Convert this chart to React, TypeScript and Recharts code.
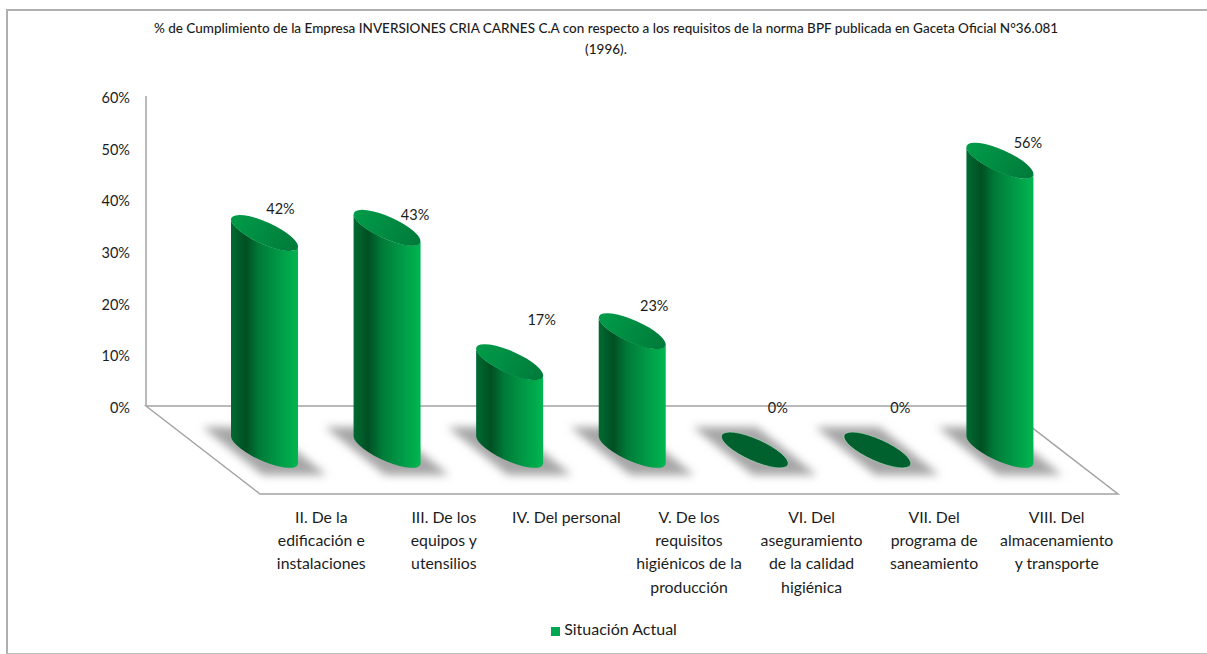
import { BarChart, Bar, XAxis, YAxis, Legend, LabelList } from 'recharts'

const categories = [
  'II. De la edificación e instalaciones',
  'III. De los equipos y utensilios',
  'IV. Del personal',
  'V. De los requisitos higiénicos de la producción',
  'VI. Del aseguramiento de la calidad higiénica',
  'VII. Del programa de saneamiento',
  'VIII. Del almacenamiento y transporte',
]
const categoryLines = [
  ['II. De la', 'edificación e', 'instalaciones'],
  ['III. De los', 'equipos y', 'utensilios'],
  ['IV. Del personal'],
  ['V. De los', 'requisitos', 'higiénicos de la', 'producción'],
  ['VI. Del', 'aseguramiento', 'de la calidad', 'higiénica'],
  ['VII. Del', 'programa de', 'saneamiento'],
  ['VIII. Del', 'almacenamiento', 'y transporte'],
]
const situacionActual = [42, 43, 17, 23, 0, 0, 56]
const yTicks = [0, 10, 20, 30, 40, 50, 60]

// hand-placed data labels, relative to the top of each cylinder
const labelNudges = [
  [16, -25],
  [28, -13],
  [32, -43],
  [22, -26],
  [23, -43],
  [23, -43],
  [28, -18],
]

const data = categories.map((name, i) => ({ name, value: situacionActual[i] }))

const FONT = 'Lato, sans-serif'
const INK = '#1c1c1c'
const GRID = '#a3a3a3'

// floor of the 3D plot: back edge sits on the axis, front edge is pushed down and right
const PLOT = { left: 146, right: 1004, top: 96, bottom: 406 }
const FLOOR_DX = 114
const FLOOR_DY = 88
// cylinders stand in the middle of the floor
const MID_DX = FLOOR_DX / 2
const MID_DY = 44

// tilted ellipse used for both caps
const RX = 36.4
const RY = 11
const TILT = 24.2
const SIDE_DY = 13.5

const Cylinder = (props: any) => {
  const { x, y, width, height, value } = props
  const cx = x + width / 2 + MID_DX
  const yTop = y + MID_DY
  const yBase = y + height + MID_DY
  const w = width / 2

  const shadow = [
    [cx - 62, yBase - 23],
    [cx + 2, yBase - 23],
    [cx + 62, yBase + 25],
    [cx - 2, yBase + 25],
  ]
    .map((p) => p.join(','))
    .join(' ')

  const body = [
    `M${cx - w},${yTop - SIDE_DY}`,
    `L${cx - w},${yBase - SIDE_DY}`,
    `A${RX},${RY} ${TILT} 0 0 ${cx + w},${yBase + SIDE_DY}`,
    `L${cx + w},${yTop + SIDE_DY}`,
    `A${RX},${RY} ${TILT} 0 1 ${cx - w},${yTop - SIDE_DY}`,
    'Z',
  ].join(' ')

  return (
    <g>
      <polygon points={shadow} fill="#a6a6a6" filter="url(#floorShadow)" />
      {value > 0 && <path d={body} fill="url(#cylinderSide)" />}
      <ellipse
        cx={cx}
        cy={yTop}
        rx={RX}
        ry={RY}
        transform={`rotate(${TILT} ${cx} ${yTop})`}
        fill={value > 0 ? 'url(#cylinderCap)' : '#00612e'}
        stroke={value > 0 ? 'none' : '#b9d8c4'}
        strokeWidth={value > 0 ? 0 : 0.6}
      />
    </g>
  )
}

const CategoryTick = ({ x, y, payload }: any) => {
  const lines = categoryLines[payload.index] ?? []
  return (
    <text x={x + FLOOR_DX} y={y} textAnchor="middle" fontFamily={FONT} fontSize={15.8} fill={INK}>
      {lines.map((line, i) => (
        <tspan key={i} x={x + FLOOR_DX} y={523 + i * 23.2}>
          {line}
        </tspan>
      ))}
    </text>
  )
}

const CylinderLabel = ({ x, y, width, value, index }: any) => {
  const [dx, dy] = labelNudges[index]
  return (
    <text
      x={x + width / 2 + MID_DX + dx}
      y={y + MID_DY + dy}
      textAnchor="middle"
      dominantBaseline="central"
      fontFamily={FONT}
      fontSize={14.5}
      fill={INK}
    >
      {value}%
    </text>
  )
}

export default function App() {
  const floor = [
    [PLOT.left, PLOT.bottom],
    [PLOT.left + FLOOR_DX, PLOT.bottom + FLOOR_DY],
    [PLOT.right + FLOOR_DX, PLOT.bottom + FLOOR_DY],
    [PLOT.right, PLOT.bottom],
  ]
    .map((p) => p.join(','))
    .join(' ')

  return (
    <div style={{ position: 'fixed', left: 0, top: 0, width: 1207, height: 654, background: '#fff' }}>
      <div
        style={{
          position: 'absolute',
          left: 6,
          top: 9,
          width: 1199,
          height: 642,
          borderTop: '2px solid #b0b0b0',
          borderLeft: '2px solid #b0b0b0',
          borderRight: '2px solid #e2e2e2',
          borderBottom: '2px solid #c0c0c0',
        }}
      />
      <BarChart
        width={1207}
        height={654}
        data={data}
        margin={{ top: PLOT.top, right: 1207 - PLOT.right, bottom: 0, left: 0 }}
        barSize={67}
        style={{ position: 'absolute', left: 0, top: 0 }}
      >
        <defs>
          <linearGradient id="cylinderSide" x1="0" y1="0" x2="1" y2="0">
            <stop offset="0" stopColor="#006b31" />
            <stop offset="0.22" stopColor="#004f23" />
            <stop offset="0.42" stopColor="#007a38" />
            <stop offset="0.72" stopColor="#009a47" />
            <stop offset="1" stopColor="#00b650" />
          </linearGradient>
          <linearGradient id="cylinderCap" x1="0" y1="0" x2="1" y2="0">
            <stop offset="0" stopColor="#009c49" />
            <stop offset="1" stopColor="#007a3a" />
          </linearGradient>
          <filter id="floorShadow" x="-20%" y="-30%" width="140%" height="160%">
            <feGaussianBlur stdDeviation="4.5" />
          </filter>
        </defs>

        <text x={606} y={33} textAnchor="middle" fontFamily={FONT} fontSize={13.5} fontWeight={500} fill={INK}>
          % de Cumplimiento de la Empresa INVERSIONES CRIA CARNES C.A con respecto a los requisitos de la norma BPF
          publicada en Gaceta Oficial N°36.081
        </text>
        <text x={606} y={54} textAnchor="middle" fontFamily={FONT} fontSize={13.5} fontWeight={500} fill={INK}>
          (1996).
        </text>

        <polygon points={floor} fill="none" stroke={GRID} strokeWidth={1.5} />

        <XAxis dataKey="name" height={218} interval={0} axisLine={false} tickLine={false} tick={<CategoryTick />} />
        <YAxis
          width={PLOT.left}
          domain={[0, 60]}
          ticks={yTicks}
          axisLine={{ stroke: GRID, strokeWidth: 1.5 }}
          tickLine={false}
          tickMargin={10}
          tickFormatter={(v: number) => `${v}%`}
          tick={{ fontFamily: FONT, fontSize: 14.5, fill: INK, dy: 2 }}
        />
        <Bar dataKey="value" name="Situación Actual" fill="#00a651" shape={<Cylinder />} isAnimationActive={false}>
          <LabelList dataKey="value" content={<CylinderLabel />} />
        </Bar>
        <Legend
          verticalAlign="bottom"
          height={30}
          iconType="square"
          iconSize={9}
          wrapperStyle={{ left: 309, width: 620, bottom: 5 }}
          formatter={(value: string) => (
            <span style={{ color: INK, fontFamily: FONT, fontSize: 16 }}>{value}</span>
          )}
        />
      </BarChart>
    </div>
  )
}
